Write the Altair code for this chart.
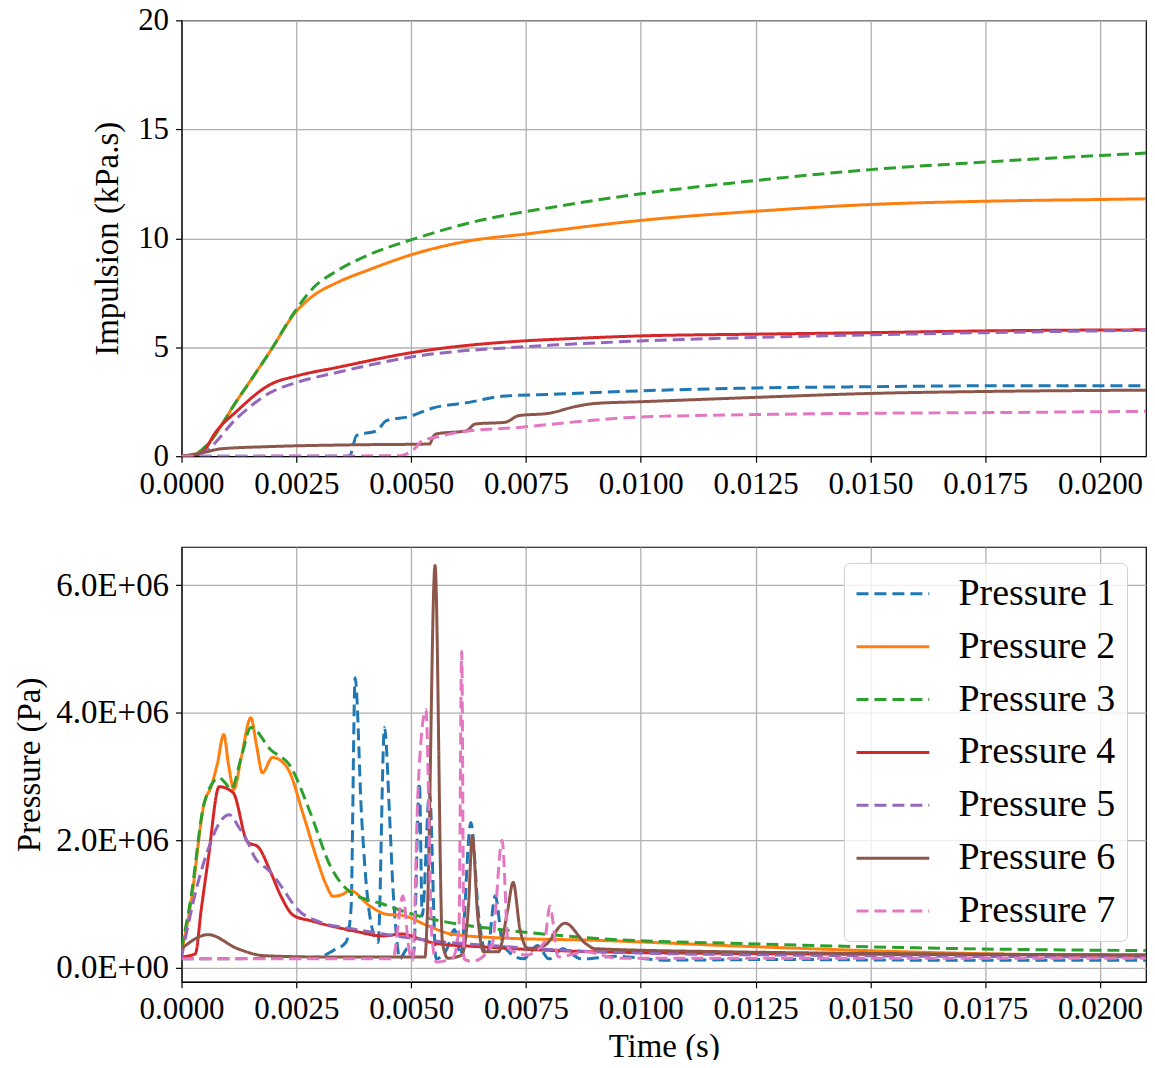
import altair as alt
import pandas as pd

SERIES = ["Pressure 1", "Pressure 2", "Pressure 3", "Pressure 4",
          "Pressure 5", "Pressure 6", "Pressure 7"]
COLORS = ["#1f77b4", "#ff7f0e", "#2ca02c", "#d62728",
          "#9467bd", "#8c564b", "#e377c2"]
DASHES = [[12, 6], [1, 0], [12, 6], [1, 0], [12, 6], [1, 0], [12, 6]]

X_TICKS = [0, 0.0025, 0.005, 0.0075, 0.01, 0.0125, 0.015, 0.0175, 0.02]
IMP_TICKS = [0, 5, 10, 15, 20]
P_TICKS = [0, 2e6, 4e6, 6e6]

# ---------------- Impulsion (kPa.s) ----------------
imp1_t = [0, 0.0036, 0.00367, 0.00381, 0.00425, 0.00446, 0.00496, 0.00547, 0.00626, 0.00698, 0.0082, 0.01, 0.0125, 0.015, 0.0175, 0.021]
imp1_v = [0, 0, 0.05, 0.95, 1.17, 1.63, 1.82, 2.21, 2.47, 2.75, 2.85, 3.0, 3.13, 3.19, 3.23, 3.23]

imp2_t = [0, 0.00025, 0.0005, 0.00122, 0.00194, 0.00248, 0.00287, 0.00338, 0.0041, 0.00503, 0.00626, 0.00752, 0.0082, 0.01, 0.0125, 0.015, 0.0175, 0.02, 0.021]
imp2_v = [0, 0.05, 0.4, 2.6, 4.85, 6.6, 7.37, 7.96, 8.57, 9.26, 9.88, 10.2, 10.38, 10.82, 11.24, 11.55, 11.7, 11.78, 11.81]

imp3_t = [0, 0.00025, 0.0005, 0.00122, 0.00194, 0.00248, 0.00287, 0.00338, 0.0041, 0.00503, 0.00626, 0.0082, 0.01, 0.0125, 0.015, 0.0175, 0.02, 0.021]
imp3_v = [0, 0.05, 0.4, 2.6, 4.85, 6.68, 7.73, 8.5, 9.26, 9.95, 10.7, 11.47, 12.04, 12.65, 13.15, 13.5, 13.8, 13.91]

imp4_t = [0, 0.0003, 0.0005, 0.00071, 0.00122, 0.00194, 0.00252, 0.00338, 0.00503, 0.00752, 0.0082, 0.01, 0.0125, 0.015, 0.0175, 0.021]
imp4_v = [0, 0.03, 0.27, 1.0, 2.1, 3.3, 3.69, 4.07, 4.76, 5.3, 5.37, 5.52, 5.6, 5.67, 5.75, 5.8]

imp5_t = [0, 0.0003, 0.0005, 0.00122, 0.00194, 0.00252, 0.00338, 0.00503, 0.00752, 0.0082, 0.01, 0.0125, 0.015, 0.0175, 0.021]
imp5_v = [0, 0.03, 0.2, 1.78, 2.93, 3.39, 3.84, 4.56, 5.03, 5.11, 5.29, 5.45, 5.57, 5.67, 5.78]

imp6_t = [0, 0.0005, 0.00086, 0.0019, 0.00367, 0.0054, 0.00548, 0.00554, 0.0062, 0.0064, 0.00705, 0.00734, 0.008, 0.00856, 0.009, 0.01, 0.0125, 0.015, 0.0175, 0.021]
imp6_v = [0, 0.18, 0.34, 0.44, 0.52, 0.56, 0.9, 1.02, 1.17, 1.48, 1.56, 1.86, 1.97, 2.27, 2.42, 2.5, 2.7, 2.88, 2.97, 3.03]

imp7_t = [0, 0.00475, 0.00505, 0.00525, 0.00554, 0.00604, 0.0074, 0.00885, 0.0098, 0.0125, 0.015, 0.0175, 0.021]
imp7_v = [0, 0.02, 0.3, 0.72, 0.87, 1.1, 1.33, 1.63, 1.78, 1.91, 1.97, 2.0, 2.06]

# ---------------- Pressure (Pa) ----------------
p1_t = [0, 0.0025, 0.003, 0.0033, 0.00358, 0.00369, 0.00378, 0.00392, 0.0041, 0.00428, 0.00442, 0.00453, 0.0046, 0.00468, 0.00475, 0.00492, 0.00505, 0.00518, 0.00524, 0.0054, 0.00554, 0.00578, 0.00594, 0.00608, 0.0063, 0.00647, 0.00665, 0.00683, 0.007, 0.00745, 0.00775, 0.008, 0.0083, 0.0087, 0.0095, 0.0105, 0.013, 0.016, 0.021]
p1_v = [0.14e6, 0.15e6, 0.17e6, 0.27e6, 0.40e6, 0.92e6, 4.55e6, 2.38e6, 0.81e6, 0.40e6, 3.77e6, 2.38e6, 1.29e6, 0.5e6, 0.14e6, 0.3e6, 0.2e6, 2.9e6, 0.81e6, 2.75e6, 0.14e6, 0.3e6, 0.6e6, 0.2e6, 2.28e6, 0.81e6, 0.2e6, 1.13e6, 0.35e6, 0.14e6, 0.35e6, 0.14e6, 0.3e6, 0.14e6, 0.18e6, 0.12e6, 0.13e6, 0.12e6, 0.12e6]

p2_t = [0, 0.0002, 0.0005, 0.00065, 0.00078, 0.00092, 0.00102, 0.00114, 0.0013, 0.00151, 0.00163, 0.00176, 0.00198, 0.0023, 0.00266, 0.00295, 0.00315, 0.0033, 0.0035, 0.00367, 0.0041, 0.00446, 0.00482, 0.00536, 0.00587, 0.0069, 0.00906, 0.0125, 0.0175, 0.021]
p2_v = [0.25e6, 1.0e6, 2.6e6, 2.85e6, 3.2e6, 3.66e6, 3.2e6, 2.8e6, 3.3e6, 3.92e6, 3.5e6, 3.06e6, 3.3e6, 3.14e6, 2.38e6, 1.7e6, 1.3e6, 1.12e6, 1.15e6, 1.21e6, 0.97e6, 0.84e6, 0.82e6, 0.66e6, 0.53e6, 0.47e6, 0.43e6, 0.33e6, 0.22e6, 0.19e6]

p3_t = [0, 0.0002, 0.0005, 0.00082, 0.00095, 0.00108, 0.0013, 0.00151, 0.00194, 0.00237, 0.0028, 0.00325, 0.00367, 0.00438, 0.00503, 0.00575, 0.0072, 0.00906, 0.0125, 0.017, 0.021]
p3_v = [0.3e6, 1.08e6, 2.6e6, 2.98e6, 2.9e6, 2.8e6, 3.3e6, 3.77e6, 3.42e6, 3.16e6, 2.44e6, 1.58e6, 1.19e6, 1.0e6, 0.84e6, 0.72e6, 0.58e6, 0.46e6, 0.375e6, 0.3e6, 0.27e6]

p4_t = [0, 0.0003, 0.00043, 0.00058, 0.00082, 0.00112, 0.00144, 0.00166, 0.00194, 0.00216, 0.00244, 0.0028, 0.00374, 0.00438, 0.0048, 0.0052, 0.00554, 0.0065, 0.0091, 0.013, 0.021]
p4_v = [0.17e6, 0.22e6, 0.92e6, 1.7e6, 2.84e6, 2.75e6, 1.97e6, 1.9e6, 1.5e6, 1.13e6, 0.82e6, 0.74e6, 0.58e6, 0.5e6, 0.53e6, 0.45e6, 0.38e6, 0.33e6, 0.25e6, 0.22e6, 0.2e6]

p5_t = [0, 0.00036, 0.0006, 0.00085, 0.00104, 0.00125, 0.00144, 0.00158, 0.00194, 0.00216, 0.00252, 0.003, 0.00374, 0.00438, 0.0055, 0.0069, 0.0091, 0.013, 0.021]
p5_v = [0.17e6, 1.34e6, 1.9e6, 2.3e6, 2.4e6, 2.2e6, 1.97e6, 1.75e6, 1.5e6, 1.29e6, 0.92e6, 0.72e6, 0.61e6, 0.53e6, 0.42e6, 0.34e6, 0.25e6, 0.2e6, 0.17e6]

p6_t = [0, 0.00058, 0.00122, 0.0018, 0.003, 0.0053, 0.00535, 0.00552, 0.00568, 0.0058, 0.0061, 0.00625, 0.00633, 0.00645, 0.00658, 0.0069, 0.0071, 0.00722, 0.00737, 0.00755, 0.0079, 0.00835, 0.0088, 0.009, 0.012, 0.016, 0.021]
p6_v = [0.3e6, 0.52e6, 0.3e6, 0.19e6, 0.17e6, 0.17e6, 0.8e6, 6.31e6, 0.4e6, 0.15e6, 0.2e6, 1.0e6, 2.07e6, 0.8e6, 0.25e6, 0.25e6, 0.9e6, 1.34e6, 0.6e6, 0.3e6, 0.35e6, 0.7e6, 0.38e6, 0.3e6, 0.25e6, 0.22e6, 0.2e6]

p7_t = [0, 0.0046, 0.00482, 0.00495, 0.00503, 0.00515, 0.00532, 0.00545, 0.00555, 0.0059, 0.00604, 0.0061, 0.00615, 0.00633, 0.00676, 0.00698, 0.00712, 0.0075, 0.0079, 0.00802, 0.0082, 0.0088, 0.0095, 0.021]
p7_v = [0.14e6, 0.14e6, 1.13e6, 0.3e6, 0.12e6, 2.8e6, 4.05e6, 0.5e6, 0.09e6, 0.15e6, 0.6e6, 4.96e6, 0.14e6, 0.1e6, 0.35e6, 2.0e6, 0.3e6, 0.2e6, 0.4e6, 0.97e6, 0.17e6, 0.25e6, 0.15e6, 0.15e6]

imp_series = [(imp1_t, imp1_v), (imp2_t, imp2_v), (imp3_t, imp3_v), (imp4_t, imp4_v),
              (imp5_t, imp5_v), (imp6_t, imp6_v), (imp7_t, imp7_v)]
p_series = [(p1_t, p1_v), (p2_t, p2_v), (p3_t, p3_v), (p4_t, p4_v),
            (p5_t, p5_v), (p6_t, p6_v), (p7_t, p7_v)]


def to_long(series_list):
    rows = []
    for name, (ts, vs) in zip(SERIES, series_list):
        for i, (t, v) in enumerate(zip(ts, vs)):
            rows.append({"series": name, "t": t, "v": v, "i": i})
    return pd.DataFrame(rows)


imp_df = to_long(imp_series)
p_df = to_long(p_series)

FONT = "Liberation Serif"
FS = 31
W = 967

legend = alt.Legend(
    title=None, orient="none", legendX=664, legendY=16,
    symbolType="M-1,0H3", symbolSize=1332, symbolStrokeWidth=3,
    labelFont=FONT, labelFontSize=38, labelColor="black", labelOffset=64,
    rowPadding=14, padding=11,
    fillColor="rgba(255,255,255,0.8)", strokeColor="#d0d0d0", cornerRadius=6,
)

x_top = alt.X("t:Q", scale=alt.Scale(domain=[0, 0.021], nice=False, zero=False),
              axis=alt.Axis(values=X_TICKS, format=".4f", title=None,
                            labelOverlap=False, labelFlush=False))
x_bot = alt.X("t:Q", scale=alt.Scale(domain=[0, 0.021], nice=False, zero=False),
              axis=alt.Axis(values=X_TICKS, format=".4f", title="Time (s)",
                            labelOverlap=False, labelFlush=False, titlePadding=6))

top = alt.Chart(imp_df).mark_line(strokeWidth=3, interpolate="monotone", clip=True).encode(
    x=x_top,
    y=alt.Y("v:Q", scale=alt.Scale(domain=[0, 20], nice=False),
            axis=alt.Axis(values=IMP_TICKS, title="Impulsion (kPa.s)", titlePadding=13)),
    color=alt.Color("series:N", scale=alt.Scale(domain=SERIES, range=COLORS), legend=None),
    strokeDash=alt.StrokeDash("series:N", scale=alt.Scale(domain=SERIES, range=DASHES), legend=None),
    order="i:Q",
).properties(width=W, height=437)

bottom = alt.Chart(p_df).mark_line(strokeWidth=3, interpolate="monotone", clip=True).encode(
    x=x_bot,
    y=alt.Y("v:Q", scale=alt.Scale(domain=[-0.22e6, 6.6e6], nice=False, zero=False),
            axis=alt.Axis(values=P_TICKS, title="Pressure (Pa)", labelFontSize=33,
                          labelExpr="datum.value == 0 ? '0.0E+00' : format(datum.value / 1e6, '.1f') + 'E+06'")),
    color=alt.Color("series:N", scale=alt.Scale(domain=SERIES, range=COLORS), legend=legend),
    strokeDash=alt.StrokeDash("series:N", scale=alt.Scale(domain=SERIES, range=DASHES), legend=legend),
    order="i:Q",
).properties(width=W, height=436)

chart = alt.vconcat(top, bottom, spacing=46).resolve_scale(
    color="independent", strokeDash="independent"
).properties(
    padding={"left": 5, "top": -6, "right": 0, "bottom": -6}
).configure_view(
    stroke="black", strokeWidth=1.2
).configure_axis(
    labelFont=FONT, labelFontSize=FS, labelColor="black",
    titleFont=FONT, titleFontSize=33, titleColor="black", titleFontWeight="normal",
    tickColor="black", tickSize=6, tickWidth=1.2, domainColor="black", domainWidth=1.2,
    gridColor="#b0b0b0", gridWidth=1.3, labelPadding=7, titlePadding=9,
)

chart.save("out.html", embed_options={"renderer": "svg", "actions": False})
